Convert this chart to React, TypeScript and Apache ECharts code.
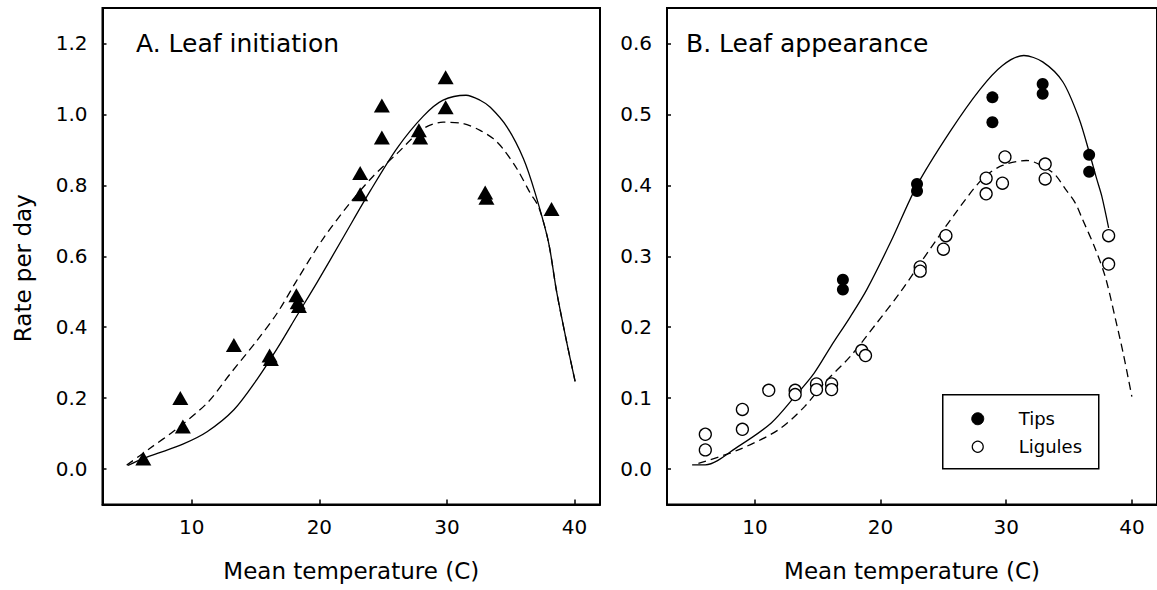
import React, { useEffect, useRef } from "react";
import * as echarts from "echarts";

// ---------- data ----------
const X_TICKS = [10, 20, 30, 40];
const Y_TICKS_A = [0, 0.2, 0.4, 0.6, 0.8, 1.0, 1.2];
const Y_TICKS_B = [0, 0.1, 0.2, 0.3, 0.4, 0.5, 0.6];

// Panel A: leaf initiation observations (triangles)
const A_OBS: [number, number][] = [
  [6.2, 0.03], [9.1, 0.2], [9.3, 0.12], [13.3, 0.35], [16.1, 0.32], [16.2, 0.31],
  [18.2, 0.49], [18.3, 0.47], [18.4, 0.46], [23.2, 0.835], [23.2, 0.775],
  [24.9, 1.025], [24.9, 0.935], [27.8, 0.955], [27.9, 0.935], [29.9, 1.105],
  [29.9, 1.02], [33.0, 0.78], [33.1, 0.765], [38.2, 0.733],
];
// Panel A: fitted curves
const A_FIT_SOLID: [number, number][] = [
  [5.0, 0.01], [6.2, 0.03], [7.3, 0.044], [9.3, 0.07], [11.2, 0.105], [13.3, 0.167],
  [15.1, 0.252], [16.7, 0.34], [18.2, 0.43], [19.8, 0.525], [21.9, 0.655],
  [24.0, 0.785], [26.1, 0.905], [28.15, 0.995], [29.7, 1.04], [31.5, 1.054], [32.6, 1.04],
  [33.4, 1.02], [34.7, 0.965], [36.0, 0.875], [36.9, 0.78], [37.96, 0.64], [38.6, 0.5],
  [39.4, 0.356], [40.05, 0.247],
];
const A_FIT_DASHED: [number, number][] = [
  [4.9, 0.011], [6.7, 0.058], [8.7, 0.11], [11.2, 0.186], [13.0, 0.268], [15.1, 0.362],
  [16.7, 0.44], [18.2, 0.53], [20.3, 0.65], [22.4, 0.75], [24.2, 0.825],
  [26.1, 0.89], [28.15, 0.96], [29.7, 0.978], [31.3, 0.974], [32.6, 0.955], [33.65, 0.931],
  [34.4, 0.903], [35.5, 0.846], [36.5, 0.78], [37.2, 0.738], [37.96, 0.64], [38.6, 0.5],
  [39.4, 0.356], [40.05, 0.247],
];

// Panel B: leaf appearance observations
const B_TIPS: [number, number][] = [
  [17.0, 0.267], [17.0, 0.253], [22.9, 0.402], [22.9, 0.392], [28.9, 0.524],
  [28.9, 0.489], [32.9, 0.543], [32.9, 0.529], [36.6, 0.443], [36.6, 0.419],
];
const B_LIGULES: [number, number][] = [
  [6.05, 0.049], [6.05, 0.027], [9.0, 0.084], [9.0, 0.056], [11.1, 0.111],
  [13.2, 0.111], [13.2, 0.105], [14.9, 0.12], [14.9, 0.112], [16.1, 0.12],
  [16.1, 0.112], [18.5, 0.167], [18.8, 0.16], [23.15, 0.285], [23.15, 0.279],
  [25.2, 0.329], [25.0, 0.31], [28.4, 0.41], [28.4, 0.388], [29.7, 0.403],
  [29.9, 0.44], [33.1, 0.43], [33.1, 0.409], [38.15, 0.329], [38.15, 0.289],
];
// Panel B: fitted curves
const B_FIT_TIPS: [number, number][] = [
  [5.0, 0.006], [6.05, 0.006], [8.68, 0.032], [11.3, 0.065], [13.16, 0.102],
  [14.7, 0.135], [16.05, 0.173], [17.6, 0.215], [18.9, 0.253], [20.8, 0.32],
  [22.9, 0.4], [25.5, 0.475], [27.9, 0.535], [29.7, 0.569], [31.4, 0.583],
  [32.9, 0.574], [34.5, 0.546], [35.8, 0.494], [36.6, 0.447], [37.2, 0.409],
  [37.6, 0.385], [38.15, 0.34],
];
const B_FIT_LIGULES: [number, number][] = [
  [5.5, 0.008], [8.68, 0.027], [11.84, 0.055], [13.95, 0.088], [15.5, 0.121],
  [17.6, 0.159], [19.7, 0.206], [21.6, 0.25], [23.15, 0.29],
  [25.8, 0.357], [28.15, 0.41], [29.7, 0.428], [31.6, 0.435], [33.7, 0.418],
  [34.7, 0.395], [35.5, 0.375], [36.0, 0.355], [37.1, 0.31], [37.9, 0.27],
  [38.7, 0.211], [39.3, 0.164], [40.0, 0.102],
];

const FONT = "DejaVu Sans";

function xAxisCfg(gridIndex: number) {
  return {
    type: "value",
    gridIndex,
    min: 3,
    max: 42,
    name: "Mean temperature (C)",
    nameLocation: "middle",
    nameGap: 55,
    nameTextStyle: { fontFamily: FONT, fontSize: 23, color: "#000" },
    axisLine: { show: true, onZero: false, lineStyle: { color: "#000", width: 2 } },
    axisTick: { show: true, inside: true, length: 5, customValues: X_TICKS, lineStyle: { color: "#000", width: 1.5 } },
    axisLabel: { customValues: X_TICKS, margin: 12, fontFamily: FONT, fontSize: 20, color: "#000" },
    splitLine: { show: false },
  };
}

function yAxisCfg(gridIndex: number, min: number, max: number, ticks: number[], name: string) {
  return {
    type: "value",
    gridIndex,
    min,
    max,
    name,
    nameLocation: "middle",
    nameGap: 68,
    nameTextStyle: { fontFamily: FONT, fontSize: 23, color: "#000", padding: [0, 24, 0, 0] },
    axisLine: { show: true, onZero: false, lineStyle: { color: "#000", width: 2 } },
    axisTick: { show: true, inside: true, length: 4, customValues: ticks, lineStyle: { color: "#000", width: 1.5 } },
    axisLabel: {
      customValues: ticks,
      margin: 15,
      fontFamily: FONT,
      fontSize: 20,
      color: "#000",
      formatter: (v: number) => v.toFixed(1),
    },
    splitLine: { show: false },
  };
}

function lineSeries(name: string, data: [number, number][], idx: number, dashed: boolean) {
  return {
    name,
    type: "line",
    xAxisIndex: idx,
    yAxisIndex: idx,
    data,
    smooth: 0.3,
    showSymbol: false,
    symbol: "none",
    z: 2,
    lineStyle: { color: "#000", width: 1.3, type: dashed ? [8, 5] : "solid" },
  };
}

export default function App() {
  const ref = useRef<HTMLDivElement>(null);
  useEffect(() => {
    if (!ref.current) return;
    const chart = echarts.init(ref.current, undefined, { renderer: "svg" });
    chart.setOption({
      animation: false,
      backgroundColor: "#fff",
      title: [
        { text: "A. Leaf initiation", left: 136, top: 28, padding: 0, textStyle: { fontFamily: FONT, fontSize: 25, fontWeight: "normal", color: "#000", lineHeight: 30 } },
        { text: "B. Leaf appearance", left: 686, top: 28, padding: 0, textStyle: { fontFamily: FONT, fontSize: 25, fontWeight: "normal", color: "#000", lineHeight: 30 } },
      ],
      grid: [
        { left: 102.5, right: 557, top: 8, bottom: 85.5, show: true, borderColor: "#000", borderWidth: 2, backgroundColor: "transparent" },
        { left: 667, right: -5, top: 8, bottom: 85.5, show: true, borderColor: "#000", borderWidth: 2, backgroundColor: "transparent" },
      ],
      xAxis: [xAxisCfg(0), xAxisCfg(1)],
      yAxis: [
        yAxisCfg(0, -0.1, 1.3, Y_TICKS_A, "Rate per day"),
        yAxisCfg(1, -0.05, 0.65, Y_TICKS_B, ""),
      ],
      series: [
        lineSeries("Initiation fit (solid)", A_FIT_SOLID, 0, false),
        lineSeries("Initiation fit (dashed)", A_FIT_DASHED, 0, true),
        {
          name: "Leaf initiation",
          type: "scatter",
          xAxisIndex: 0,
          yAxisIndex: 0,
          data: A_OBS,
          symbol: "triangle",
          symbolSize: [16, 14],
          z: 3,
          itemStyle: { color: "#000", opacity: 1 },
        },
        lineSeries("Tips fit", B_FIT_TIPS, 1, false),
        lineSeries("Ligules fit", B_FIT_LIGULES, 1, true),
        {
          name: "Tips",
          type: "scatter",
          xAxisIndex: 1,
          yAxisIndex: 1,
          data: B_TIPS,
          symbol: "circle",
          symbolSize: 12,
          z: 3,
          itemStyle: { color: "#000", opacity: 1 },
        },
        {
          name: "Ligules",
          type: "scatter",
          xAxisIndex: 1,
          yAxisIndex: 1,
          data: B_LIGULES,
          symbol: "circle",
          symbolSize: 12,
          z: 3,
          itemStyle: { color: "#fff", borderColor: "#000", borderWidth: 1.3, opacity: 1 },
        },
      ],
      graphic: [
        {
          type: "group",
          left: 942,
          top: 394,
          children: [
            { type: "rect", shape: { x: 0, y: 0, width: 156, height: 74 }, style: { fill: "#fff", stroke: "#000", lineWidth: 1.5 } },
            { type: "circle", shape: { cx: 35, cy: 24, r: 6 }, style: { fill: "#000", stroke: "#000", lineWidth: 1 } },
            { type: "circle", shape: { cx: 35, cy: 52, r: 5.5 }, style: { fill: "#fff", stroke: "#000", lineWidth: 1.2 } },
            { type: "text", x: 76, y: 24, style: { text: "Tips", fontFamily: FONT, fontSize: 18, fill: "#000", verticalAlign: "middle", align: "left" } },
            { type: "text", x: 76, y: 52, style: { text: "Ligules", fontFamily: FONT, fontSize: 18, fill: "#000", verticalAlign: "middle", align: "left" } },
          ],
        },
      ],
    });
    return () => chart.dispose();
  }, []);
  return <div ref={ref} style={{ position: "fixed", left: 0, top: 0, width: 1157, height: 590 }} />;
}
